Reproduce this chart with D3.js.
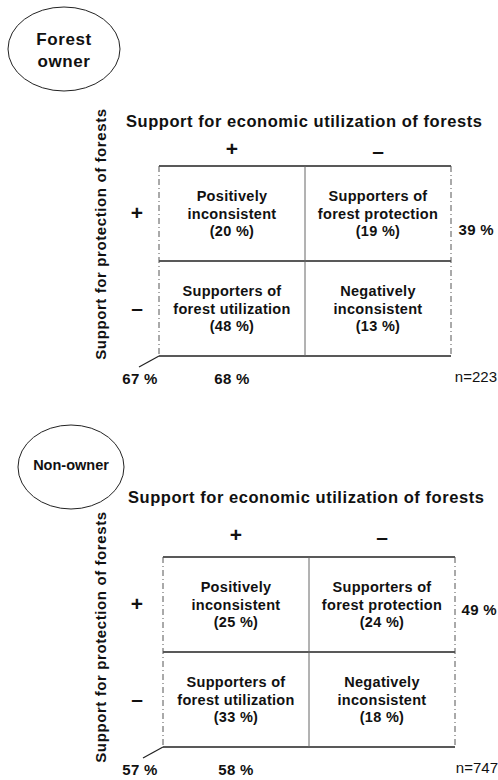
<!DOCTYPE html>
<html>
<head>
<meta charset="utf-8">
<script src="https://cdn.jsdelivr.net/npm/d3@7"></script>
<style>
  body { margin: 0; background: #fff; }
  svg text { font-family: "Liberation Sans", Arial, sans-serif; fill: #111; }
</style>
</head>
<body>
<div id="chart"></div>
<script>
// data
var groups = [["Forest", "owner"], ["Non-owner"]];
var colKeys = ["+", "\u2013"];   // support for economic utilization
var rowKeys = ["+", "\u2013"];   // support for protection
var cellNames = [
  ["Positively", "inconsistent"],
  ["Supporters of", "forest protection"],
  ["Supporters of", "forest utilization"],
  ["Negatively", "inconsistent"]
];
var ownerShares = [20, 19, 48, 13];
var nonOwnerShares = [25, 24, 33, 18];
var rowPlusTotals = [39, 49];
var colPlusTotals = [68, 58];
var cornerTotals = [67, 57];
var sampleSizes = [223, 747];

var xTitle = "Support for economic utilization of forests";
var yTitle = "Support for protection of forests";

// layout for each panel (scan is slightly shifted between panels)
var layout = [
  { ell: [64, 49, 56, 42], lab: 51, lfs: 17, title: [126, 127], gx: [159, 451], gy: [166, 356],
    colY: 149, rowX: 137, yt: [100, 234], totR: [494, 235], bot: 384, cx: 140, nx: 497 },
  { ell: [71, 467, 53, 42], lab: 465, lfs: 14.5, title: [128, 503], gx: [163, 455], gy: [557, 747],
    colY: 535, rowX: 137, yt: [100, 637], totR: [497, 615], bot: 775, cx: 140, nx: 498 }
];

var svg = d3.select("#chart").append("svg")
    .attr("width", 498)
    .attr("height", 780);

var shares = [ownerShares, nonOwnerShares];

layout.forEach(function(L, p) {
  var g = svg.append("g");

  var x = d3.scaleBand().domain(colKeys).range(L.gx);
  var y = d3.scaleBand().domain(rowKeys).range(L.gy);

  // group ellipse
  g.append("ellipse")
    .attr("cx", L.ell[0]).attr("cy", L.ell[1])
    .attr("rx", L.ell[2]).attr("ry", L.ell[3])
    .attr("fill", "none").attr("stroke", "#222").attr("stroke-width", 1);

  var lbl = g.append("text")
    .attr("text-anchor", "middle")
    .attr("font-weight", "bold")
    .attr("font-size", L.lfs)
    .attr("letter-spacing", groups[p].length > 1 ? 0.6 : 0);
  groups[p].forEach(function(t, i) {
    lbl.append("tspan")
      .attr("x", L.ell[0])
      .attr("y", L.lab + (i - (groups[p].length - 1) / 2) * 22 + 5)
      .text(t);
  });

  // column title
  g.append("text")
    .attr("x", L.title[0]).attr("y", L.title[1])
    .attr("font-weight", "bold").attr("font-size", 16.5)
    .attr("letter-spacing", 0.55)
    .text(xTitle);

  // column markers
  g.selectAll(".colk").data(colKeys).enter().append("text")
    .attr("x", function(d) { return x(d) + x.bandwidth() / 2; })
    .attr("y", function(d, i) { return L.colY + 7 + i * 2; })
    .attr("text-anchor", "middle")
    .attr("font-weight", "bold").attr("font-size", 21)
    .text(function(d) { return d; });

  // row markers
  g.selectAll(".rowk").data(rowKeys).enter().append("text")
    .attr("x", L.rowX)
    .attr("y", function(d) { return y(d) + y.bandwidth() / 2 + 6; })
    .attr("text-anchor", "middle")
    .attr("font-weight", "bold").attr("font-size", 21)
    .text(function(d) { return d; });

  // row axis title
  g.append("text")
    .attr("transform", "translate(" + (L.yt[0] + 6) + "," + L.yt[1] + ") rotate(-90)")
    .attr("text-anchor", "middle")
    .attr("font-weight", "bold").attr("font-size", 15)
    .attr("letter-spacing", 0.6)
    .text(yTitle);

  // grid lines
  var x0 = L.gx[0], x1 = L.gx[1], y0 = L.gy[0], y1 = L.gy[1];
  var xm = x(colKeys[1]), ym = y(rowKeys[1]);
  var hz = [y0, ym, y1];
  g.selectAll(".hl").data(hz).enter().append("line")
    .attr("x1", x0).attr("x2", x1)
    .attr("y1", function(d) { return d; }).attr("y2", function(d) { return d; })
    .attr("stroke", "#222").attr("stroke-width", 1.3);
  g.selectAll(".vl").data([x0, xm, x1]).enter().append("line")
    .attr("x1", function(d) { return d; }).attr("x2", function(d) { return d; })
    .attr("y1", y0).attr("y2", y1)
    .attr("stroke", function(d, i) { return i == 1 ? "#666" : "#555"; })
    .attr("stroke-width", 1)
    .attr("stroke-dasharray", function(d, i) { return i == 1 ? null : "6,3,1,3"; });

  // cell texts
  var cells = [];
  rowKeys.forEach(function(r, ri) {
    colKeys.forEach(function(c, ci) {
      var k = ri * 2 + ci;
      cells.push({ r: r, c: c, lines: cellNames[k].concat(["(" + shares[p][k] + " %)"]) });
    });
  });
  var ct = g.selectAll(".cell").data(cells).enter().append("text")
    .attr("text-anchor", "middle")
    .attr("font-weight", "bold").attr("font-size", 14.5)
    .attr("letter-spacing", 0.3);
  ct.each(function(d) {
    var t = d3.select(this);
    var cx = x(d.c) + x.bandwidth() / 2, cy = y(d.r) + y.bandwidth() / 2;
    d.lines.forEach(function(s, i) {
      t.append("tspan").attr("x", cx).attr("y", cy + (i - 1) * 17.5 + 5).text(s);
    });
  });

  // marginal totals
  g.append("text")
    .attr("x", L.totR[0]).attr("y", L.totR[1])
    .attr("text-anchor", "end")
    .attr("font-weight", "bold").attr("font-size", 15)
    .attr("letter-spacing", 0.3)
    .text(rowPlusTotals[p] + " %");

  g.append("text")
    .attr("x", x(colKeys[0]) + x.bandwidth() / 2).attr("y", L.bot)
    .attr("text-anchor", "middle")
    .attr("font-weight", "bold").attr("font-size", 15)
    .attr("letter-spacing", 0.3)
    .text(colPlusTotals[p] + " %");

  g.append("text")
    .attr("x", L.cx).attr("y", L.bot)
    .attr("text-anchor", "middle")
    .attr("font-weight", "bold").attr("font-size", 15)
    .attr("letter-spacing", 0.3)
    .text(cornerTotals[p] + " %");

  g.append("line")
    .attr("x1", x0 - 20).attr("y1", y1 + 11)
    .attr("x2", x0).attr("y2", y1)
    .attr("stroke", "#222").attr("stroke-width", 1.2);

  g.append("text")
    .attr("x", L.nx).attr("y", L.bot - 2)
    .attr("text-anchor", "end")
    .attr("font-size", 15)
    .text("n=" + sampleSizes[p]);
});
</script>
</body>
</html>
